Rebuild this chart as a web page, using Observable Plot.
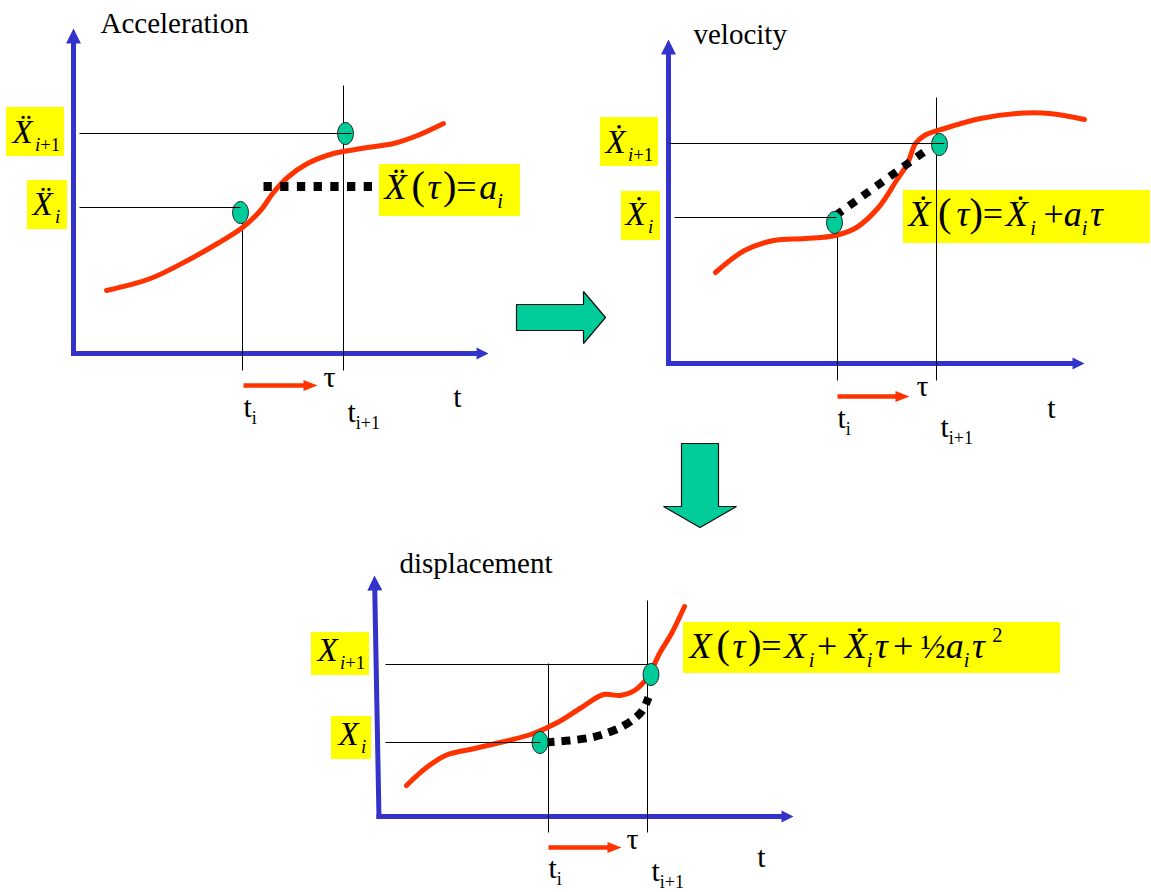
<!DOCTYPE html>
<html><head><meta charset="utf-8">
<script src="https://cdn.jsdelivr.net/npm/d3@7"></script>
<script src="https://cdn.jsdelivr.net/npm/@observablehq/plot@0.6"></script>
<style>html,body{margin:0;padding:0;background:#fff}#chart svg{display:block}</style>
</head><body><div id="chart"></div>
<script>
// ---------------- data ----------------
const accelCurve = [[106,290],[150,278],[187,260],[217,243],[242,227],[260,210],[273,192],[287,177],[307,163],[333,153],[343,151],[367,147],[393,143],[417,135],[443,123]];
const velCurve = [[715,272],[744,250],[773,240],[805,238],[835,235],[856,227],[878,207],[896,180],[907,163],[915,143],[924,135],[944,128],[980,118],[1016,113],[1049,113],[1084,119]];
const dispCurve = [[406,785],[426,767],[445,755],[474,748],[508,740],[533,733],[557,722],[581,707],[603,694],[620,695],[634,690],[647,677],[659,653],[671,633],[684,606]];

const accelDots = [[263,186],[373,186]];
const velDots = [[835,215],[924,151]];
const dispDots = [[545,742],[569,740],[591,737],[605,733],[620,727],[634,718],[642,710],[648,697]];

const knots = [[240,212],[345,133],[834,222],[939,144],[539.5,742],[650.5,674]];

const guideV = [[242,220,370],[343,85,370],[837,228,380],[936,97,380],[548,663,832],[647,600,832]];
const guideH = [[133,79,351],[207,79,240],[143,669,944],[217,674,836],[664,385,648],[742,385,540]];

const blueArrows = [
  {tail:[73,355.5], tip:[73,28], shaft:2.5, head:7.5, len:15},
  {tail:[70.5,353], tip:[488,353], shaft:2.5, head:6, len:12},
  {tail:[668,365.5], tip:[668,39], shaft:2.5, head:7.5, len:15},
  {tail:[665.5,363], tip:[1084,363], shaft:2.5, head:6, len:12},
  {tail:[378.5,818.5], tip:[374,575], shaft:2.5, head:7.5, len:15},
  {tail:[376,816], tip:[793,816], shaft:2.5, head:6, len:12}
];
const redArrows = [
  {tail:[243,385], tip:[317,385], shaft:2.2, head:5.5, len:14},
  {tail:[837,396], tip:[909,396], shaft:2.2, head:5.5, len:14},
  {tail:[548,847], tip:[621,847], shaft:2.2, head:5.5, len:14}
];
const greenArrows = [
  {tail:[516,317], tip:[605,317], shaft:13, head:26, len:22},
  {tail:[699.5,443], tip:[699.5,527], shaft:18.5, head:36.5, len:21}
];

const labelBoxes = [[6,107,64,156],[27,180,67,229],[600,117,658,166],[621,191,660,240],[311,632,369,675],[331,716,371,759],[379,164,520,216],[903,190,1150,243],[683,622,1060,673]];

const titles = [{s:"Acceleration",x:100,y:32},{s:"velocity",x:693,y:43},{s:"displacement",x:399,y:572}];
const stateLabels = [{s:"Ẍ_{~i+1}",x:12,y:142},{s:"Ẍ_{~i}",x:32,y:214},{s:"Ẋ_{~i+1}",x:605,y:152},{s:"Ẋ_{~i}",x:625,y:224},{s:"X_{~i+1}",x:317,y:660},{s:"X_{~i}",x:338,y:744}];
const formulas = [
  {s:"Ẍ~~(~τ~)=~a_i",x:384,y:198},
  {s:"Ẋ~~~(~~τ)=~Ẋ_{~i}~~~+a_i~τ",x:908,y:225},
  {s:"X~~(~τ~)=~X_{~i}~+~~~Ẋ_i~τ~~+~~~½a_i~τ^{~~~2}",x:689,y:657}
];
const tickLabels = [{s:"t_i",x:243,y:416},{s:"t_{i+1}",x:347,y:421},{s:"t_i",x:837,y:427},{s:"t_{i+1}",x:940,y:436},{s:"t_i",x:548,y:877},{s:"t_{i+1}",x:651,y:880}];
const axisNames = [{s:"τ",x:329,y:386},{s:"t",x:457,y:406},{s:"τ",x:922,y:395},{s:"t",x:1051,y:417},{s:"τ",x:632,y:848},{s:"t",x:761,y:866}];

// ---------------- helpers ----------------
const RED = "#ff3300", BLUE = "#3333cc", GREEN = "#00cc99", YELLOW = "#ffff00";
const SERIF = "'Liberation Serif','Times New Roman',Times,serif";
const svgNS = "http://www.w3.org/2000/svg";

function blockArrow(a, id) {
  const [x1,y1] = a.tail, [x2,y2] = a.tip;
  const L = Math.hypot(x2-x1, y2-y1), ux = (x2-x1)/L, uy = (y2-y1)/L, px = -uy, py = ux;
  const bx = x2 - ux*a.len, by = y2 - uy*a.len;
  const pts = [
    [x1+px*a.shaft, y1+py*a.shaft],[bx+px*a.shaft, by+py*a.shaft],[bx+px*a.head, by+py*a.head],
    [x2,y2],[bx-px*a.head, by-py*a.head],[bx-px*a.shaft, by-py*a.shaft],[x1-px*a.shaft, y1-py*a.shaft]];
  pts.push(pts[0]);
  return pts.map(([x,y]) => ({id, x, y}));
}
const polys = (arr) => arr.flatMap((a, i) => blockArrow(a, i));

const ellipseSymbol = {draw(ctx, size) {
  const ry = Math.sqrt(size/Math.PI), rx = ry*0.72, k = 0.5523;
  ctx.moveTo(rx, 0);
  ctx.bezierCurveTo(rx, k*ry, k*rx, ry, 0, ry);
  ctx.bezierCurveTo(-k*rx, ry, -rx, k*ry, -rx, 0);
  ctx.bezierCurveTo(-rx, -k*ry, -k*rx, -ry, 0, -ry);
  ctx.bezierCurveTo(k*rx, -ry, rx, -k*ry, rx, 0);
  ctx.closePath();
}};

function tokenize(s) {
  const out = [];
  for (let i = 0; i < s.length;) {
    const c = s[i];
    if (c === "_" || c === "^") {
      let body;
      if (s[i+1] === "{") { const j = s.indexOf("}", i+2); body = s.slice(i+2, j); i = j+1; }
      else { body = s[i+1]; i += 2; }
      for (const ch of body) out.push({ch, pos: c === "_" ? "sub" : "sup"});
    } else { out.push({ch:c, pos:"base"}); i++; }
  }
  return out;
}
// lays a small formula out as tspans inside one text element
function typeset(el, s, italic) {
  const S = parseFloat(getComputedStyle(el).fontSize);
  const subR = italic ? 0.57 : 0.6, subShift = italic ? 0.26 : 0.25;
  const toks = tokenize(s);
  while (el.firstChild) el.removeChild(el.firstChild);
  let cur = 0, dx = 0;
  for (const t of toks) {
    if (t.ch === "~") { dx += 0.07*S; continue; }
    let size = S, shift = 0;
    if (t.pos === "sub") { size = subR*S; shift = subShift*S; }
    else if (t.pos === "sup") { size = subR*S; shift = -0.42*S; }
    else if (t.ch === "(" || t.ch === ")") size = 1.12*S;
    else if (t.ch === "½") size = 0.92*S;
    const ts = document.createElementNS(svgNS, "tspan");
    ts.setAttribute("font-size", size.toFixed(2));
    ts.setAttribute("font-style", italic && /[A-Za-zτẊẌ]/.test(t.ch) ? "italic" : "normal");
    if (shift !== cur) { ts.setAttribute("dy", (shift-cur).toFixed(2)); cur = shift; }
    if (dx) { ts.setAttribute("dx", dx.toFixed(2)); dx = 0; }
    ts.textContent = t.ch;
    el.appendChild(ts);
  }
}

const P = d => d[0], Q = d => d[1];
const txt = (data, size, anchor = "start") => Plot.text(data, {x:"x", y:"y", text:"s", fontSize:size, fontFamily:SERIF, textAnchor:anchor, lineAnchor:"bottom", fill:"black"});

const chart = Plot.plot({
  width: 1151, height: 892, margin: 0,
  x: {domain:[0,1151], range:[0,1151], axis:null},
  y: {domain:[0,892], range:[0,892], axis:null},
  style: {background:"#fff", overflow:"visible"},
  marks: [
    Plot.rect(labelBoxes, {x1:d=>d[0], y1:d=>d[1], x2:d=>d[2], y2:d=>d[3], fill:YELLOW}),
    Plot.line(polys(blueArrows), {x:"x", y:"y", z:"id", fill:BLUE, stroke:"none"}),
    Plot.line(polys(greenArrows), {x:"x", y:"y", z:"id", fill:GREEN, stroke:"#111", strokeWidth:1.2, strokeLinejoin:"miter"}),
    Plot.link(guideV, {x1:d=>d[0], x2:d=>d[0], y1:d=>d[1], y2:d=>d[2], stroke:"black", strokeWidth:1}),
    Plot.line(accelCurve, {x:P, y:Q, curve:"catmull-rom", stroke:RED, strokeWidth:5}),
    Plot.line(velCurve, {x:P, y:Q, curve:"catmull-rom", stroke:RED, strokeWidth:5}),
    Plot.line(dispCurve, {x:P, y:Q, curve:"catmull-rom", stroke:RED, strokeWidth:5}),
    Plot.line(accelDots, {x:P, y:Q, stroke:"black", strokeWidth:9, strokeDasharray:"8.3,8.4", strokeLinecap:"butt"}),
    Plot.line(velDots, {x:P, y:Q, stroke:"black", strokeWidth:8, strokeDasharray:"8.3,8.4", strokeLinecap:"butt"}),
    Plot.line(dispDots, {x:P, y:Q, curve:"catmull-rom", stroke:"black", strokeWidth:8, strokeDasharray:"9,7", strokeLinecap:"butt"}),
    Plot.dot(knots, {x:P, y:Q, r:11, symbol:ellipseSymbol, fill:GREEN, stroke:"#222", strokeWidth:1}),
    Plot.link(guideH, {x1:d=>d[1], x2:d=>d[2], y1:d=>d[0], y2:d=>d[0], stroke:"black", strokeWidth:1}),
    Plot.line(polys(redArrows), {x:"x", y:"y", z:"id", fill:RED, stroke:"none"}),
    txt(titles, 29),
    txt(stateLabels, 33),
    txt(formulas, 36),
    txt(tickLabels, 30),
    txt(axisNames, 30, "middle")
  ]
});
document.getElementById("chart").appendChild(chart);

const italicSet = new Set([...stateLabels, ...formulas].map(d => d.s));
const uprightSet = new Set(tickLabels.map(d => d.s));
d3.select(chart).selectAll("text").nodes().forEach(el => {
  const s = el.textContent;
  if (italicSet.has(s)) typeset(el, s, true);
  else if (uprightSet.has(s)) typeset(el, s, false);
});
</script>
</body></html>
